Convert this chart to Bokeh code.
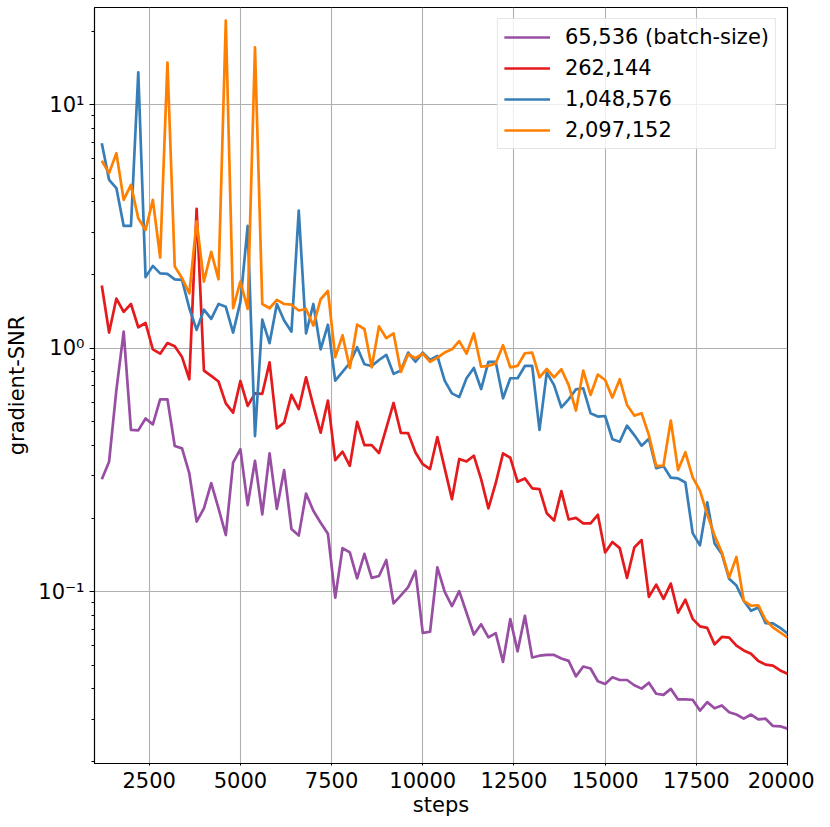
from bokeh.plotting import figure
from bokeh.models import FixedTicker, Range1d, Legend, LegendItem
from bokeh.embed import file_html
from bokeh.resources import INLINE

steps = list(range(1200, 20001, 200))

snr_65536 = [
    0.29, 0.342, 0.674, 1.17, 0.462, 0.46, 0.515, 0.487, 0.617, 0.617,
    0.397, 0.388, 0.306, 0.194, 0.22, 0.279, 0.22, 0.171, 0.339, 0.385,
    0.227, 0.345, 0.208, 0.37, 0.219, 0.316, 0.181, 0.17, 0.253, 0.215,
    0.192, 0.173, 0.0945, 0.151, 0.145, 0.1135, 0.143, 0.114, 0.116, 0.135,
    0.0895, 0.0966, 0.1045, 0.1217, 0.0678, 0.0685, 0.126, 0.1, 0.0873, 0.1006,
    0.082, 0.0667, 0.0735, 0.0649, 0.0676, 0.0515, 0.0772, 0.0569, 0.0796, 0.0537,
    0.0546, 0.055, 0.055, 0.0532, 0.052, 0.0449, 0.0493, 0.0484, 0.0429, 0.0418,
    0.0445, 0.0434, 0.0434, 0.0413, 0.04, 0.0423, 0.0381, 0.0377, 0.0399, 0.0361,
    0.0361, 0.036, 0.0325, 0.0352, 0.0332, 0.0341, 0.032, 0.0313, 0.0301, 0.0313,
    0.0299, 0.0301, 0.0281, 0.028, 0.0274,
]

snr_262144 = [
    1.81, 1.16, 1.60, 1.41, 1.52, 1.22, 1.27, 0.99, 0.95, 1.05,
    1.02, 0.92, 0.746, 3.74, 0.81, 0.77, 0.73, 0.594, 0.544, 0.734,
    0.58, 0.653, 0.65, 0.875, 0.469, 0.495, 0.644, 0.563, 0.76, 0.58,
    0.45, 0.61, 0.347, 0.376, 0.329, 0.499, 0.40, 0.40, 0.371, 0.47,
    0.596, 0.449, 0.448, 0.373, 0.334, 0.319, 0.432, 0.322, 0.24, 0.351,
    0.343, 0.362, 0.29, 0.22, 0.279, 0.37, 0.355, 0.283, 0.292, 0.266,
    0.264, 0.21, 0.196, 0.259, 0.198, 0.201, 0.191, 0.191, 0.207, 0.145,
    0.16, 0.151, 0.114, 0.152, 0.163, 0.0953, 0.107, 0.0935, 0.108, 0.082,
    0.0927, 0.0774, 0.0721, 0.071, 0.0608, 0.0652, 0.0648, 0.0601, 0.0574, 0.0556,
    0.0519, 0.0502, 0.0497, 0.0475, 0.046,
]

snr_1048576 = [
    6.95, 4.92, 4.55, 3.18, 3.18, 13.6, 1.96, 2.18, 2.03, 2.02,
    1.92, 1.91, 1.46, 1.19, 1.44, 1.32, 1.52, 1.48, 1.16, 1.55,
    3.18, 0.436, 1.31, 1.05, 1.52, 1.3, 1.17, 3.68, 1.15, 1.52,
    0.99, 1.25, 0.736, 0.80, 0.87, 1.01, 0.86, 0.846, 0.895, 0.94,
    0.785, 0.81, 0.96, 0.88, 0.96, 0.895, 0.93, 0.736, 0.653, 0.63,
    0.753, 0.83, 0.68, 0.88, 0.88, 0.623, 0.753, 0.753, 0.846, 0.846,
    0.462, 0.794, 0.706, 0.572, 0.617, 0.678, 0.685, 0.541, 0.524, 0.527,
    0.423, 0.413, 0.481, 0.44, 0.398, 0.425, 0.322, 0.328, 0.294, 0.292,
    0.281, 0.174, 0.155, 0.233, 0.158, 0.143, 0.113, 0.106, 0.0918, 0.0835,
    0.0862, 0.0743, 0.0742, 0.071, 0.0674,
]

snr_2097152 = [
    5.89, 5.24, 6.33, 4.07, 4.69, 3.42, 3.06, 4.07, 2.36, 14.9,
    2.17, 1.94, 1.68, 3.32, 1.88, 2.49, 1.92, 22.2, 1.46, 1.88,
    1.45, 17.2, 1.52, 1.46, 1.58, 1.52, 1.51, 1.43, 1.45, 1.24,
    1.59, 1.72, 0.92, 1.13, 0.83, 1.25, 1.2, 0.835, 1.23, 1.10,
    1.15, 0.80, 0.945, 0.91, 0.95, 0.88, 0.915, 0.96, 0.99, 1.07,
    0.95, 1.15, 0.84, 0.846, 0.867, 1.03, 0.835, 0.846, 0.954, 0.96,
    0.76, 0.822, 0.76, 0.82, 0.706, 0.555, 0.81, 0.643, 0.78, 0.741,
    0.627, 0.746, 0.585, 0.529, 0.541, 0.44, 0.328, 0.33, 0.505, 0.316,
    0.374, 0.295, 0.26, 0.208, 0.170, 0.145, 0.1145, 0.139, 0.0918, 0.0876,
    0.088, 0.0765, 0.0714, 0.068, 0.0649,
]

series_labels = ["65,536 (batch-size)", "262,144", "1,048,576", "2,097,152"]
series_colors = ["#984ea3", "#e41a1c", "#377eb8", "#ff7f00"]
x_ticks = [2500, 5000, 7500, 10000, 12500, 15000, 17500, 20000]
y_ticks = [0.1, 1, 10]
y_tick_labels = ["10\u207b\u00b9", "10\u2070", "10\u00b9"]

FONT = "DejaVu Sans"
FS = "21px"

p = figure(width=814, height=820, y_axis_type="log",
           x_range=Range1d(1000, 20000), y_range=Range1d(0.0197, 25.1),
           output_backend="svg", toolbar_location=None,
           min_border_left=94, min_border_right=27,
           min_border_top=7, min_border_bottom=57)

p.outline_line_color = "black"
p.outline_line_width = 1.1
p.background_fill_color = "white"
p.border_fill_color = "white"

items = []
for ys, lab, col in zip([snr_65536, snr_262144, snr_1048576, snr_2097152],
                        series_labels, series_colors):
    r = p.line(steps, ys, line_color=col, line_width=2.7, line_join="round")
    items.append(LegendItem(label=lab, renderers=[r]))

minor = []
for d in [0.01, 0.1, 1, 10]:
    for m in range(2, 10):
        minor.append(round(m * d, 4))

p.xaxis.ticker = FixedTicker(ticks=x_ticks)
p.yaxis.ticker = FixedTicker(ticks=y_ticks, minor_ticks=minor)
p.yaxis.major_label_overrides = {t: s for t, s in zip(y_ticks, y_tick_labels)}

for ax in [p.xaxis[0], p.yaxis[0]]:
    ax.axis_line_color = "black"
    ax.axis_line_width = 1.1
    ax.major_tick_line_color = "black"
    ax.minor_tick_line_color = "black"
    ax.major_tick_in = 0
    ax.minor_tick_in = 0
    ax.major_label_text_font = FONT
    ax.major_label_text_font_size = FS
    ax.major_label_text_color = "black"
    ax.axis_label_text_font = FONT
    ax.axis_label_text_font_size = FS
    ax.axis_label_text_font_style = "normal"
    ax.axis_label_text_color = "black"

p.xaxis.axis_label = "steps"
p.yaxis.axis_label = "gradient-SNR"
p.xaxis.major_tick_out = 2
p.xaxis.minor_tick_out = 0
p.xaxis.major_label_standoff = 6
p.xaxis.axis_label_standoff = 2
p.yaxis.major_tick_out = 5
p.yaxis.minor_tick_out = 3
p.yaxis.major_label_standoff = 5
p.yaxis.axis_label_standoff = 6

p.xgrid.grid_line_color = "#b0b0b0"
p.ygrid.grid_line_color = "#b0b0b0"
p.xgrid.grid_line_width = 1.1
p.ygrid.grid_line_width = 1.1

legend = Legend(items=items, location="top_right")
legend.margin = 11
legend.padding = 6
legend.spacing = 7
legend.glyph_width = 46
legend.glyph_height = 24
legend.label_height = 24
legend.label_standoff = 15
legend.label_text_font = FONT
legend.label_text_font_size = FS
legend.label_text_color = "black"
legend.border_line_color = "#cccccc"
legend.border_line_width = 1
legend.background_fill_alpha = 0.8
p.add_layout(legend)

open("out.html", "w").write(file_html(p, INLINE))
